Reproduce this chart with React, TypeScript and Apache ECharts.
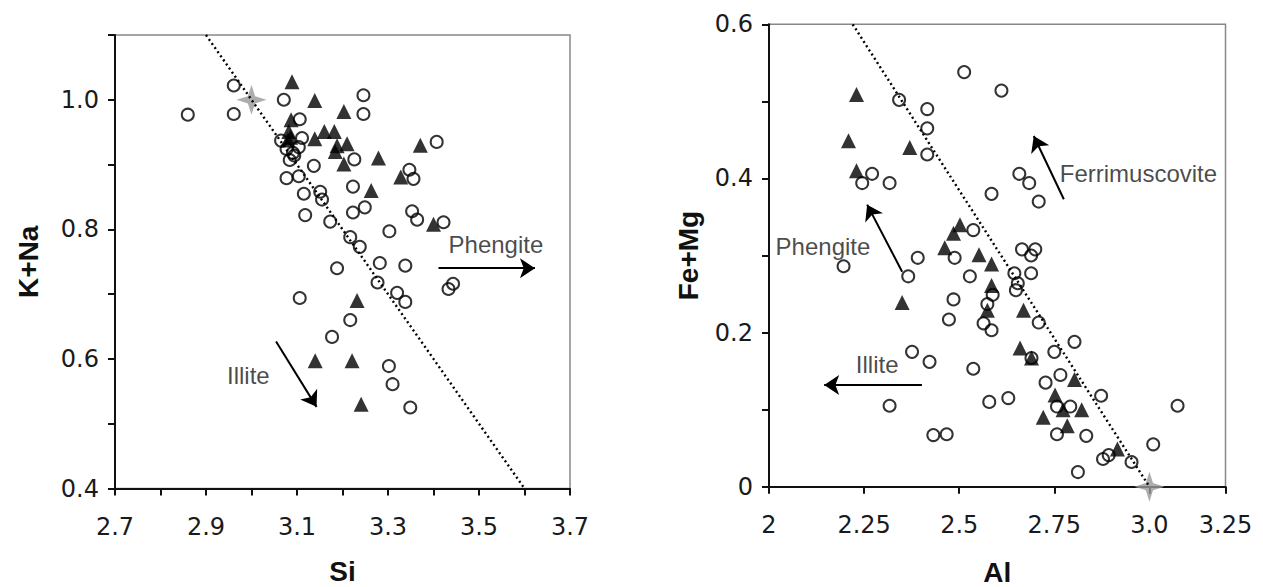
import React, { useEffect, useRef } from "react";
import * as echarts from "echarts";

// ---- Left panel: K+Na vs Si ----
const leftCircleSi = [2.860, 2.961, 2.961, 3.071, 3.246, 3.246, 3.106, 3.065, 3.077, 3.091, 3.104, 3.111, 3.084, 3.094, 3.137, 3.226, 3.407, 3.077, 3.104, 3.115, 3.151, 3.155, 3.223, 3.347, 3.356, 3.118, 3.173, 3.223, 3.249, 3.303, 3.353, 3.364, 3.422, 3.217, 3.238, 3.188, 3.282, 3.338, 3.277, 3.320, 3.338, 3.433, 3.443, 3.106, 3.217, 3.177, 3.302, 3.310, 3.349];
const leftCircleKNa = [0.977, 1.022, 0.978, 1.000, 1.007, 0.978, 0.970, 0.937, 0.924, 0.918, 0.927, 0.941, 0.907, 0.914, 0.898, 0.908, 0.935, 0.879, 0.882, 0.855, 0.858, 0.846, 0.866, 0.892, 0.878, 0.822, 0.812, 0.826, 0.834, 0.797, 0.828, 0.815, 0.811, 0.788, 0.773, 0.740, 0.748, 0.744, 0.718, 0.702, 0.688, 0.708, 0.716, 0.694, 0.660, 0.634, 0.589, 0.561, 0.525];
const leftTriSi = [3.089, 3.139, 3.203, 3.087, 3.082, 3.086, 3.080, 3.139, 3.160, 3.182, 3.188, 3.184, 3.210, 3.203, 3.279, 3.371, 3.328, 3.263, 3.400, 3.232, 3.140, 3.221, 3.241];
const leftTriKNa = [1.028, 0.999, 0.982, 0.969, 0.951, 0.942, 0.938, 0.940, 0.951, 0.951, 0.929, 0.920, 0.932, 0.901, 0.910, 0.930, 0.881, 0.860, 0.808, 0.690, 0.597, 0.597, 0.530];
const leftStar = [3.0, 1.0];
const leftLine = [[2.9, 1.1], [3.6, 0.4]];
const leftXTicks = ["2.7", "", "2.9", "", "3.1", "", "3.3", "", "3.5", "", "3.7"];
const leftYTicks = ["0.4", "", "0.6", "", "0.8", "", "1.0", ""];

// ---- Right panel: Fe+Mg vs Al ----
const rightCircleAl = [2.513, 2.342, 2.416, 2.416, 2.416, 2.271, 2.245, 2.317, 2.196, 2.391, 2.366, 2.537, 2.488, 2.528, 2.611, 2.658, 2.684, 2.585, 2.709, 2.665, 2.700, 2.689, 2.645, 2.689, 2.654, 2.649, 2.588, 2.574, 2.485, 2.473, 2.564, 2.585, 2.709, 2.803, 2.376, 2.422, 2.537, 2.690, 2.750, 2.766, 2.727, 2.873, 2.757, 2.792, 2.757, 2.834, 2.878, 2.893, 2.953, 2.812, 2.579, 2.629, 2.317, 2.432, 2.467, 3.010, 3.074];
const rightCircleFeMg = [0.538, 0.502, 0.490, 0.465, 0.431, 0.406, 0.394, 0.394, 0.286, 0.297, 0.273, 0.333, 0.297, 0.273, 0.514, 0.406, 0.394, 0.380, 0.370, 0.308, 0.308, 0.300, 0.277, 0.277, 0.264, 0.255, 0.249, 0.237, 0.243, 0.217, 0.212, 0.203, 0.213, 0.188, 0.175, 0.162, 0.153, 0.167, 0.175, 0.145, 0.135, 0.118, 0.104, 0.104, 0.068, 0.066, 0.036, 0.041, 0.032, 0.019, 0.110, 0.115, 0.105, 0.067, 0.068, 0.055, 0.105];
const rightTriAl = [2.230, 2.209, 2.370, 2.230, 2.485, 2.502, 2.462, 2.552, 2.585, 2.585, 2.574, 2.350, 2.669, 2.660, 2.690, 2.803, 2.752, 2.773, 2.822, 2.721, 2.784, 2.916];
const rightTriFeMg = [0.509, 0.449, 0.440, 0.410, 0.329, 0.340, 0.310, 0.301, 0.289, 0.261, 0.229, 0.239, 0.229, 0.180, 0.167, 0.139, 0.119, 0.100, 0.100, 0.090, 0.079, 0.049];
const rightStar = [3.0, 0.0];
const rightLine = [[2.22, 0.6], [3.0, 0.0]];
const rightXTickMap: Record<string, string> = { "2": "2", "2.25": "2.25", "2.5": "2.5", "2.75": "2.75", "3": "3.0", "3.2": "3.25" };
const rightYTicks = ["0", "", "0.2", "", "0.4", "", "0.6"];

// annotations: [x, y, text] and arrows [x1, y1, x2, y2]
const leftNotes: [number, number, string][] = [[3.432, 0.776, "Phengite"], [2.945, 0.575, "Illite"]];
const leftArrows = [[3.411, 0.740, 3.623, 0.740], [3.054, 0.627, 3.143, 0.526]];
const rightNotes: [number, number, string][] = [[2.016, 0.312, "Phengite"], [2.227, 0.158, "Illite"], [2.763, 0.407, "Ferrimuscovite"]];
const rightArrows = [[2.350, 0.279, 2.258, 0.366], [2.402, 0.132, 2.145, 0.132], [2.775, 0.373, 2.696, 0.455]];

const STAR = "path://M50,0 L62,38 L100,50 L62,62 L50,100 L38,62 L0,50 L38,38 Z";
const tickFont = { fontFamily: "DejaVu Sans", fontSize: 24, color: "#1a1a1a" };
const titleFont = { fontFamily: "Liberation Sans, Arial", fontSize: 28, lineHeight: 22, fontWeight: "bold" as const, color: "#111" };
const noteFont = { fontFamily: "Liberation Sans, Arial", fontSize: 24, color: "#1a1a1a" };

function zip(a: number[], b: number[]) {
  return a.map((v, i) => [v, b[i]]);
}

function panelSeries(idx: number, cx: number[], cy: number[], tx: number[], ty: number[], star: number[], line: number[][], notes: [number, number, string][], arrows: number[][]) {
  const base = { xAxisIndex: idx, yAxisIndex: idx, silent: true };
  const s: any[] = [
    {
      ...base, type: "line", data: line, symbol: "none",
      lineStyle: { color: "#000", width: 2.4, type: [2, 3] },
    },
    {
      ...base, type: "scatter", data: zip(cx, cy), symbol: "circle", symbolSize: 12,
      itemStyle: { color: "rgba(0,0,0,0)", borderColor: "#000", borderWidth: 2 },
    },
    {
      ...base, type: "scatter", data: zip(tx, ty), symbol: "triangle", symbolSize: 15,
      itemStyle: { color: "#000" },
    },
    {
      ...base, type: "scatter", data: [star], symbol: STAR, symbolSize: 30, clip: false,
      itemStyle: { color: "#999" },
    },
    {
      ...base, type: "line", data: [], symbol: "none",
      markLine: {
        silent: true, symbol: ["none", "arrow"], symbolSize: 15,
        label: { show: false },
        lineStyle: { color: "#000", width: 2, type: "solid" },
        emphasis: { disabled: true },
        data: arrows.map((a) => [{ coord: [a[0], a[1]] }, { coord: [a[2], a[3]] }]),
      },
    },
  ];
  notes.forEach((n) => {
    s.push({
      ...base, type: "scatter", data: [[n[0], n[1]]], symbolSize: 1,
      itemStyle: { color: "rgba(0,0,0,0)" },
      label: { show: true, position: "right", distance: 0, formatter: n[2], ...noteFont },
    });
  });
  return s;
}

export default function App() {
  const ref = useRef<HTMLDivElement>(null);
  useEffect(() => {
    if (!ref.current) return;
    const chart = echarts.init(ref.current, null, { renderer: "svg" });
    const axisLine = { show: true, lineStyle: { color: "#111", width: 2 } };
    const axisTick = { show: true, inside: false, length: 7, lineStyle: { color: "#111", width: 2 } };
    chart.setOption({
      animation: false,
      backgroundColor: "#fff",
      grid: [
        { left: 115, top: 35, width: 455, height: 453.5, show: true, borderColor: "#888", borderWidth: 1.5, containLabel: false, outerBoundsMode: "none" },
        { left: 769, top: 24.3, width: 456.5, height: 462.4, show: true, borderColor: "#888", borderWidth: 1.5, containLabel: false, outerBoundsMode: "none" },
      ],
      xAxis: [
        {
          gridIndex: 0, type: "value", min: 2.7, max: 3.7, interval: 0.1,
          axisLine, axisTick, splitLine: { show: false },
          axisLabel: { ...tickFont, margin: 26, formatter: (_v: number, i: number) => leftXTicks[i] ?? "" },
          name: "Si", nameLocation: "middle", nameGap: 72, nameTextStyle: titleFont,
        },
        {
          gridIndex: 1, type: "value", min: 2, max: 3.2, interval: 0.25,
          axisLine, axisTick, splitLine: { show: false },
          axisLabel: { ...tickFont, margin: 26, showMaxLabel: true, formatter: (v: number) => rightXTickMap[String(Math.round(v * 100) / 100)] ?? "" },
          name: "Al", nameLocation: "middle", nameGap: 75, nameTextStyle: titleFont,
        },
      ],
      yAxis: [
        {
          gridIndex: 0, type: "value", min: 0.4, max: 1.1, interval: 0.1,
          axisLine, axisTick, splitLine: { show: false },
          axisLabel: { ...tickFont, margin: 16, formatter: (_v: number, i: number) => leftYTicks[i] ?? "" },
          name: "K+Na", nameLocation: "middle", nameGap: 76, nameTextStyle: titleFont,
        },
        {
          gridIndex: 1, type: "value", min: 0, max: 0.6, interval: 0.1,
          axisLine, axisTick, splitLine: { show: false },
          axisLabel: { ...tickFont, margin: 16, formatter: (_v: number, i: number) => rightYTicks[i] ?? "" },
          name: "Fe+Mg", nameLocation: "middle", nameGap: 70, nameTextStyle: titleFont,
        },
      ],
      series: [
        ...panelSeries(0, leftCircleSi, leftCircleKNa, leftTriSi, leftTriKNa, leftStar, leftLine, leftNotes, leftArrows),
        ...panelSeries(1, rightCircleAl, rightCircleFeMg, rightTriAl, rightTriFeMg, rightStar, rightLine, rightNotes, rightArrows),
      ],
    });
    return () => chart.dispose();
  }, []);
  return <div ref={ref} style={{ position: "fixed", left: 0, top: 0, width: 1263, height: 587, background: "#fff" }} />;
}
